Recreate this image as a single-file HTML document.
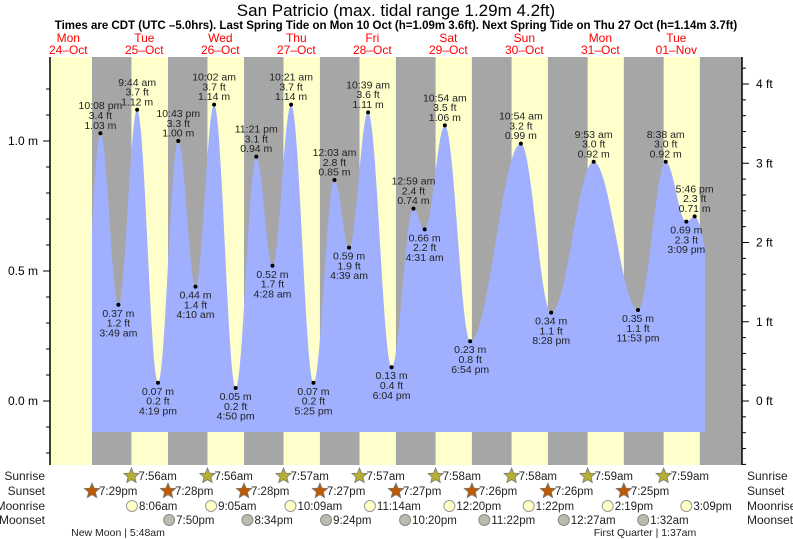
<!DOCTYPE html>
<html><head><meta charset="utf-8"><style>
html,body{margin:0;padding:0;background:#fff;}
svg{display:block;font-family:"Liberation Sans",sans-serif;}
</style></head><body>
<svg id="chart" width="793" height="539" viewBox="0 0 793 539" xmlns="http://www.w3.org/2000/svg">
<text x="396" y="16" text-anchor="middle" font-size="17" fill="#000">San Patricio (max. tidal range 1.29m 4.2ft)</text>
<text x="396" y="29" text-anchor="middle" font-size="11.5" font-weight="bold" fill="#000">Times are CDT (UTC –5.0hrs). Last Spring Tide on Mon 10 Oct (h=1.09m 3.6ft). Next Spring Tide on Thu 27 Oct (h=1.14m 3.7ft)</text>
<g id="bg"></g>
<g id="tide"></g>
<g id="axes"></g>
<g id="labels"></g>
<g id="days"></g>
<g id="astro"></g>
</svg>
<script>
// ---- data ----
const dayNames = ["Mon","Tue","Wed","Thu","Fri","Sat","Sun","Mon","Tue"];
const dayDates = ["24–Oct","25–Oct","26–Oct","27–Oct","28–Oct","29–Oct","30–Oct","31–Oct","01–Nov"];
// day index (0 = 24 Oct) and clock time
const tideDay = [0,0,1,1,1,1,2,2,2,2,3,3,3,3,4,4,4,4,5,5,5,5,6,6,7,7,8,8,8,9];
const tideTime = ["15:50","22:08","3:49","9:44","16:19","22:43","4:10","10:02","16:50","23:21","4:28","10:21","17:25","0:03","4:39","10:39","18:04","0:59","4:31","10:54","18:54","10:54","20:28","9:53","23:53","8:38","15:09","17:46","0:30"];
const tideM = [0.05,1.03,0.37,1.12,0.07,1.00,0.44,1.14,0.05,0.94,0.52,1.14,0.07,0.85,0.59,1.11,0.13,0.74,0.66,1.06,0.23,0.99,0.34,0.92,0.35,0.92,0.69,0.71,0.45];
const tideDayFix = [0,0,1,1,1,1,2,2,2,2,3,3,3,4,4,4,4,5,5,5,5,6,6,7,7,8,8,8,9];
const tideLabeled = [false,true,true,true,true,true,true,true,true,true,true,true,true,true,true,true,true,true,true,true,true,true,true,true,true,true,true,true,false];
const sunriseDay = [1,2,3,4,5,6,7,8];
const sunriseTime = ["7:56","7:56","7:57","7:57","7:58","7:58","7:59","7:59"];
const sunsetDay = [0,1,2,3,4,5,6,7,8];
const sunsetTime = ["19:29","19:28","19:28","19:27","19:27","19:26","19:26","19:25","19:25"];
const sunsetShown = [true,true,true,true,true,true,true,true,false];
const moonriseDay = [1,2,3,4,5,6,7,8];
const moonriseTime = ["8:06","9:05","10:09","11:14","12:20","13:22","14:19","15:09"];
const moonsetDay = [1,2,3,4,5,7,8];
const moonsetTime = ["19:50","20:34","21:24","22:20","23:22","0:27","1:32"];
const yTicksM = [0.0,0.5,1.0];
const yTicksFt = [0,1,2,3,4];

// ---- scales ----
const X0 = 30.3, PXH = 3.167;
function hrs(d,t){const p=t.split(":");return d*24+(+p[0])+(+p[1])/60;}
function xS(h){return X0+h*PXH;}
function yS(m){return 401-m*260;}
const PL=50, PR=742, PT=57, PB=465;
const NS="http://www.w3.org/2000/svg";
function mk(tag,attrs,parent){const e=document.createElementNS(NS,tag);for(const k in attrs)e.setAttribute(k,attrs[k]);parent.appendChild(e);return e;}
function fmt12(t,sp){const p=t.split(":");let h=+p[0];const ap=h>=12?"pm":"am";h=h%12;if(h===0)h=12;return h+":"+p[1]+(sp?" ":"")+ap;}

// ---- background day/night ----
const bg=document.getElementById("bg");
const r0=mk("rect",{x:PL,y:PT,width:PR-PL,height:PB-PT,fill:"#a6a6a6"},bg);


// day periods: from sunrise to sunset
const riseH=[0].concat(sunriseDay.map((d,i)=>hrs(d,sunriseTime[i])));
riseH[0]=-10;
sunsetDay.forEach((d,i)=>{
  const s=Math.max(xS(riseH[i]),PL), e=Math.min(xS(hrs(d,sunsetTime[i])),PR);
  const r=mk("rect",{x:s,y:PT,width:e-s,height:PB-PT,fill:"#ffffcc"},bg);
  
  
});

// ---- tide curve ----
const tH=tideTime.map((t,i)=>hrs(tideDayFix[i],t));
function hAt(h){
  for(let i=0;i<tH.length-1;i++){
    if(h>=tH[i]&&h<=tH[i+1]){const f=(h-tH[i])/(tH[i+1]-tH[i]);return tideM[i]+(tideM[i+1]-tideM[i])*(1-Math.cos(Math.PI*f))/2;}
  }
  return tideM[tideM.length-1];
}
const FX0=92, FX1=705, FB=432;
let d="M"+FX0+","+FB;
for(let x=FX0;x<=FX1;x+=1){d+=" L"+x+","+yS(hAt((x-X0)/PXH)).toFixed(1);}
d+=" L"+FX1+","+FB+" Z";
const tp=mk("path",{d:d,fill:"#a0b0ff"},document.getElementById("tide"));



// ---- axes ----
const ax=document.getElementById("axes");
const la=mk("line",{x1:PL,y1:PT,x2:PL,y2:PB,stroke:"#000","stroke-width":1.5},ax);


const ra=mk("line",{x1:PR,y1:PT,x2:PR,y2:PB,stroke:"#000","stroke-width":1.5},ax);


for(let k=-2;k<=12;k++){const y=yS(k/10);if(y<PT||y>PB)continue;
  const t=mk("line",{x1:PL-(k%5===0?7:4),y1:y,x2:PL,y2:y,stroke:"#000"},ax);
  
  }
yTicksM.forEach(v=>{const t=mk("text",{x:38,y:yS(v)+4,"text-anchor":"end","font-size":12},ax);t.textContent=v.toFixed(1)+" m";
  
  });
for(let k=-4;k<=21;k++){const y=yS(k*0.2*0.3048);if(y<PT||y>PB)continue;
  const t=mk("line",{x1:PR,y1:y,x2:PR+(k%5===0?7:4),y2:y,stroke:"#000"},ax);
  
  }
yTicksFt.forEach(v=>{const t=mk("text",{x:756,y:yS(v*0.3048)+4,"font-size":12},ax);t.textContent=v+" ft";
  
  });

// ---- extreme labels ----
const lb=document.getElementById("labels");
tideM.forEach((m,i)=>{
  if(!tideLabeled[i])return;
  const x=xS(tH[i]), y=yS(m);
  const high=(i>0&&m>tideM[i-1]);
  const c=mk("circle",{cx:x,cy:y,r:2,fill:"#000"},lb);
  
  
  const ft=(m/0.3048).toFixed(1)+" ft", mt=m.toFixed(2)+" m", tt=fmt12(tideTime[i],true);
  const lines=high?[tt,ft,mt]:[mt,ft,tt];
  const base=high?y-24:y+12;
  lines.forEach((s,j)=>{const t=mk("text",{x:x,y:base+j*9.8,"text-anchor":"middle","font-size":10.5,fill:"#222"},lb);t.textContent=s;
    
    });
});

// ---- day labels ----
const dl=document.getElementById("days");
dayNames.forEach((n,i)=>{const x=Math.min(xS(i*24+12),684);
  const a=mk("text",{x:x,y:42,"text-anchor":"middle","font-size":12,fill:"#ff0000"},dl);a.textContent=n;
  
  
  const b=mk("text",{x:x,y:54,"text-anchor":"middle","font-size":12,fill:"#ff0000"},dl);b.textContent=dayDates[i];
  
  });

// ---- sun/moon rows ----
const as=document.getElementById("astro");
const rows=[["Sunrise",476],["Sunset",491],["Moonrise",506],["Moonset",520]];
rows.forEach(r=>{
  const a=mk("text",{x:45,y:r[1]+4,"text-anchor":"end","font-size":12,fill:"#222"},as);a.textContent=r[0];
  
  
  const b=mk("text",{x:747,y:r[1]+4,"font-size":12,fill:"#222"},as);b.textContent=r[0];
  
  
});
function star(cx,cy,fill){let p="";for(let k=0;k<10;k++){const rr=k%2?3.6:8,a=-Math.PI/2+k*Math.PI/5;p+=(cx+rr*Math.cos(a)).toFixed(1)+","+(cy+rr*Math.sin(a)).toFixed(1)+" ";}
  return mk("polygon",{points:p,fill:fill,stroke:"#777","stroke-width":0.8},as);}
function addTxt(x,y,s){const t=mk("text",{x:x+7,y:y+4,"font-size":11.5,fill:"#222"},as);t.textContent=s;
  
  }
sunriseDay.forEach((dd,i)=>{const x=xS(hrs(dd,sunriseTime[i]));const s=star(x,476,"#b5b035");
  
  
  addTxt(x,476,fmt12(sunriseTime[i],false));});
sunsetDay.forEach((dd,i)=>{if(!sunsetShown[i])return;const x=xS(hrs(dd,sunsetTime[i]));const s=star(x,491,"#c05a00");
  
  
  addTxt(x,491,fmt12(sunsetTime[i],false));});
moonriseDay.forEach((dd,i)=>{const x=xS(hrs(dd,moonriseTime[i]));const c=mk("circle",{cx:x,cy:506,r:5.5,fill:"#ffffc8",stroke:"#999"},as);
  
  
  addTxt(x,506,fmt12(moonriseTime[i],false));});
moonsetDay.forEach((dd,i)=>{const x=xS(hrs(dd,moonsetTime[i]));const c=mk("circle",{cx:x,cy:520,r:5.5,fill:"#bbbbb0",stroke:"#888"},as);
  
  
  addTxt(x,520,fmt12(moonsetTime[i],false));});
const nm=mk("text",{x:118,y:536,"text-anchor":"middle","font-size":10.5,fill:"#222"},as);nm.textContent="New Moon | 5:48am";


const fq=mk("text",{x:645,y:536,"text-anchor":"middle","font-size":10.5,fill:"#222"},as);fq.textContent="First Quarter | 1:37am";


</script>
</body></html>
